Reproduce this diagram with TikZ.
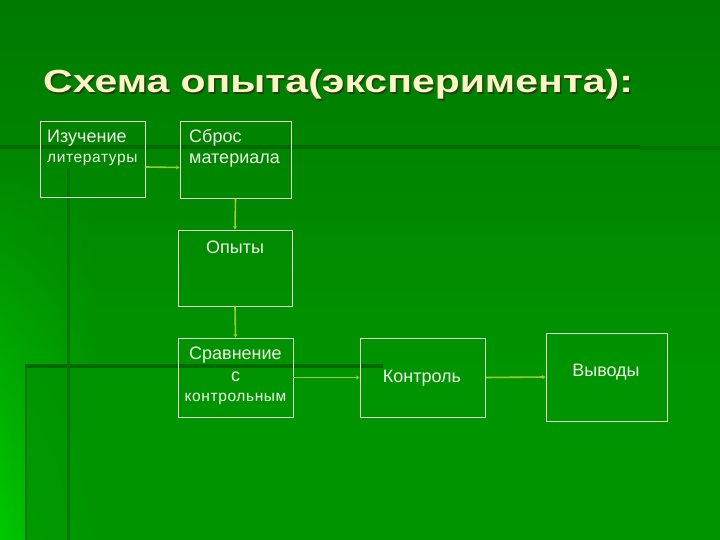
\documentclass[tikz,border=0pt]{standalone}
\usepackage{fontspec}
\setmainfont{Liberation Sans}
\usetikzlibrary{arrows.meta,fadings}
\definecolor{bgtop}{HTML}{007A00}
\definecolor{bgbot}{HTML}{00A000}
\definecolor{glowtop}{HTML}{008400}
\definecolor{glowbot}{HTML}{00C800}
\definecolor{lowfill}{HTML}{009400}
\definecolor{darkline}{HTML}{006A00}
\definecolor{midline}{HTML}{007600}
\definecolor{titlecol}{HTML}{FAF6C6}
\definecolor{titleshadow}{HTML}{254010}
\definecolor{boxline}{HTML}{E4F2CF}
\definecolor{txtcol}{HTML}{F2F4EA}
\definecolor{conncol}{HTML}{9ACC2E}
\begin{document}
\begin{tikzpicture}[x=1pt,y=-1pt,
  box/.style={draw=boxline, line width=0.9pt, inner sep=0pt},
  txt/.style={text=txtcol, inner sep=0pt, font=\fontsize{18}{20}\selectfont},
  smalltxt/.style={text=txtcol, inner sep=0pt, font=\fontsize{15.5}{18}\selectfont\addfontfeature{LetterSpace=4}},
  conn/.style={draw=conncol, line width=1.6pt, -{Stealth[length=3.5pt,width=4pt]}}]
\useasboundingbox (0,0) rectangle (720,540);
% background
\shade[top color=bgtop, bottom color=bgbot] (0,0) rectangle (720,540);
\shade[top color=glowtop, bottom color=glowbot, path fading=east] (0,140) rectangle (100,540);
\fill[lowfill, opacity=0.85] (25,365) rectangle (720,540);
% decorative lines
\draw[darkline, line width=4pt] (0,147) -- (640,147);
\draw[midline, line width=4pt] (640,148) -- (720,148);
\draw[darkline, line width=3.5pt] (25,366) -- (383,366);
\draw[midline, line width=3pt] (68,168) -- (68,540);
\draw[midline, line width=1.5pt] (26,366) -- (26,540);
% title
\node[anchor=base west, inner sep=0pt, text=titleshadow] (titleshadow) at (44.5,94.5)
  {\scalebox{1.28}[1]{\fontsize{32}{36}\selectfont\bfseries Схема опыта(эксперимента):}};
\node[anchor=base west, inner sep=0pt, text=titlecol] (title) at (43,93)
  {\scalebox{1.28}[1]{\fontsize{32}{36}\selectfont\bfseries Схема опыта(эксперимента):}};
% boxes
\node[box, minimum width=105pt, minimum height=76pt] (izu) at (92.5,159) {};
\node[box, minimum width=111pt, minimum height=77pt] (sbros) at (235.5,159.5) {};
\node[box, minimum width=114pt, minimum height=76pt] (opyty) at (235,268) {};
\node[box, minimum width=115pt, minimum height=79pt] (srav) at (235.5,377.5) {};
\node[box, minimum width=125pt, minimum height=79pt] (kontr) at (422.5,377.5) {};
\node[box, minimum width=121pt, minimum height=88pt] (vyv) at (606.5,377) {};
% texts
\node[txt, anchor=base west] (t1a) at (47,143) {Изучение};
\node[smalltxt, anchor=base west] (t1b) at (47,163) {литературы};
\node[txt, anchor=base west] (t2a) at (189,143) {Сброс};
\node[txt, anchor=base west] (t2b) at (189,164) {материала};
\node[txt, anchor=base] (t3) at (235,253) {Опыты};
\node[txt, anchor=base] (t4a) at (235.5,359) {Сравнение};
\node[txt, anchor=base] (t4b) at (235.5,381) {с};
\node[smalltxt, anchor=base] (t4c) at (235.5,401) {контрольным};
\node[txt, anchor=base] (t5) at (422,382) {Контроль};
\node[txt, anchor=base] (t6) at (606,376) {Выводы};
% connectors
\draw[conn] ([yshift=-8pt]izu.east) -- ([yshift=-8pt]sbros.west);
\draw[conn] (sbros.south) -- (opyty.north);
\draw[conn] (opyty.south) -- (srav.north);
\draw[conn] (srav.east) -- (kontr.west);
\draw[conn] (kontr.east) -- (vyv.west);
\end{tikzpicture}
\end{document}
